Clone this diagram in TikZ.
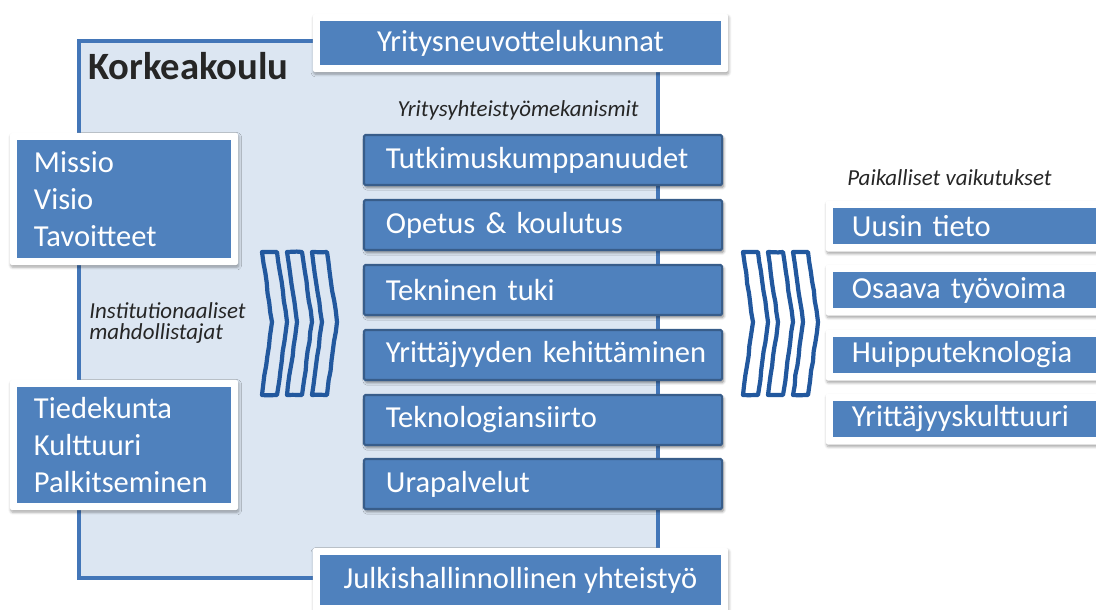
\documentclass[tikz,border=0pt]{standalone}
\usepackage{fontspec}
\setmainfont{Carlito}
\usetikzlibrary{shadows.blur,decorations.pathmorphing}

\definecolor{laatikko}{HTML}{4F81BD}
\definecolor{reuna}{HTML}{385D8A}
\definecolor{tausta}{HTML}{DCE6F2}
\definecolor{talonreuna}{HTML}{4376B8}
\definecolor{nuoli}{HTML}{22589E}
\definecolor{musta}{HTML}{262626}

\tikzset{
 talo/.style={fill=tausta, draw=talonreuna, line width=2.6pt},
 kehys/.style={fill=white, rounded corners=1.5pt, text=white,
  font=\fontsize{21.7}{26.5}\selectfont,
  blur shadow={shadow xshift=0.6pt, shadow yshift=-1.6pt, shadow blur steps=6, shadow opacity=35},
  path picture={\fill[laatikko, sharp corners]
   ([shift={(5pt,5pt)}]path picture bounding box.south west) rectangle
   ([shift={(-5pt,-5pt)}]path picture bounding box.north east);}},
 mekanismi/.style={fill=laatikko, draw=reuna, line width=1.5pt, rounded corners=1pt,
  text=white, font=\fontsize{21.7}{26}\selectfont,
  blur shadow={shadow xshift=1.2pt, shadow yshift=-1.8pt, shadow blur steps=6, shadow opacity=45},
  minimum width=8.95cm, minimum height=1.25cm, text width=7.85cm, align=left, inner xsep=0.55cm},
 selite/.style={font=\fontsize{16.3}{15}\selectfont\itshape, text=musta, inner sep=0pt},
 nuolet/.style={draw=nuoli, line width=3pt, line join=round,
  decorate, decoration={random steps, segment length=7pt, amplitude=0.3pt}}
}

\begin{document}
\begin{tikzpicture}[x=0.025cm, y=-0.025cm]
 \useasboundingbox (0,0) rectangle (1096,610);
 \clip (0,0) rectangle (1096,610);
 \pgfmathsetseed{7}

 \node [talo, minimum width=14.475cm, minimum height=13.425cm] (korkeakoulu) at (368.5,309.5) {};
 \node [anchor=west, inner sep=0pt, text=musta, font=\bfseries\fontsize{27.5}{31}\selectfont] (nimi) at (88,66) {Korkeakoulu};

 \node [kehys, minimum width=10.375cm, minimum height=1.45cm] (neuvottelu) at (520.5,43) {Yritysneuvottelukunnat};
 \node [kehys, minimum width=10.375cm, minimum height=1.6cm] (julkis) at (520.5,580) {Julkishallinnollinen yhteistyö};

 \node [kehys, minimum width=5.7cm, minimum height=3.3cm, text width=4.5cm, align=left, inner xsep=0.6cm] (missio) at (124,199) {Missio\\Visio\\Tavoitteet};
 \node [kehys, minimum width=5.7cm, minimum height=3.25cm, text width=4.5cm, align=left, inner xsep=0.6cm] (tiedekunta) at (124,445) {Tiedekunta\\Kulttuuri\\Palkitseminen};
 \node [selite, anchor=west, align=left] (mahdollistajat) at (89,323) {Institutionaaliset\\mahdollistajat};

 \node [selite, anchor=east] (mekanismit) at (639,110) {Yritysyhteistyömekanismit};
 \node [mekanismi] (tutkimus) at (543,160) {Tutkimuskumppanuudet};
 \node [mekanismi] (opetus) at (543,225) {Opetus \& koulutus};
 \node [mekanismi] (tuki) at (543,290) {Tekninen tuki};
 \node [mekanismi] (yrittajyys) at (543,355) {\mbox{Yrittäjyyden kehittäminen}};
 \node [mekanismi] (siirto) at (543,420) {Teknologiansiirto};
 \node [mekanismi] (ura) at (543,484) {Urapalvelut};

 \node [selite, anchor=west] (vaikutukset) at (847,178) {Paikalliset vaikutukset};
 \node [kehys, minimum width=7.1cm, minimum height=1.275cm, text width=5.8cm, align=left, inner xsep=0.65cm] (tieto) at (968,226) {Uusin tieto};
 \node [kehys, minimum width=7.1cm, minimum height=1.275cm, text width=5.8cm, align=left, inner xsep=0.65cm] (tyovoima) at (968,290) {Osaava työvoima};
 \node [kehys, minimum width=7.1cm, minimum height=1.275cm, text width=5.8cm, align=left, inner xsep=0.65cm] (teknologia) at (968,355) {Huipputeknologia};
 \node [kehys, minimum width=7.1cm, minimum height=1.275cm, text width=5.8cm, align=left, inner xsep=0.65cm] (kulttuuri) at (968,419) {Yrittäjyyskulttuuri};

 % nuolet
 \draw [nuolet] (262,252) -- (277,252) -- (287,322) -- (277,395) -- (262,395) -- (272,322) -- cycle;
 \draw [nuolet] (287,252) -- (302,252) -- (312,322) -- (302,395) -- (287,395) -- (297,322) -- cycle;
 \draw [nuolet] (312,252) -- (327,252) -- (337,322) -- (327,395) -- (312,395) -- (322,322) -- cycle;

 \draw [nuolet] (743,252) -- (758,252) -- (768,322) -- (758,395) -- (743,395) -- (753,322) -- cycle;
 \draw [nuolet] (768,252) -- (783,252) -- (793,322) -- (783,395) -- (768,395) -- (778,322) -- cycle;
 \draw [nuolet] (793,252) -- (808,252) -- (818,322) -- (808,395) -- (793,395) -- (803,322) -- cycle;

\end{tikzpicture}
\end{document}
